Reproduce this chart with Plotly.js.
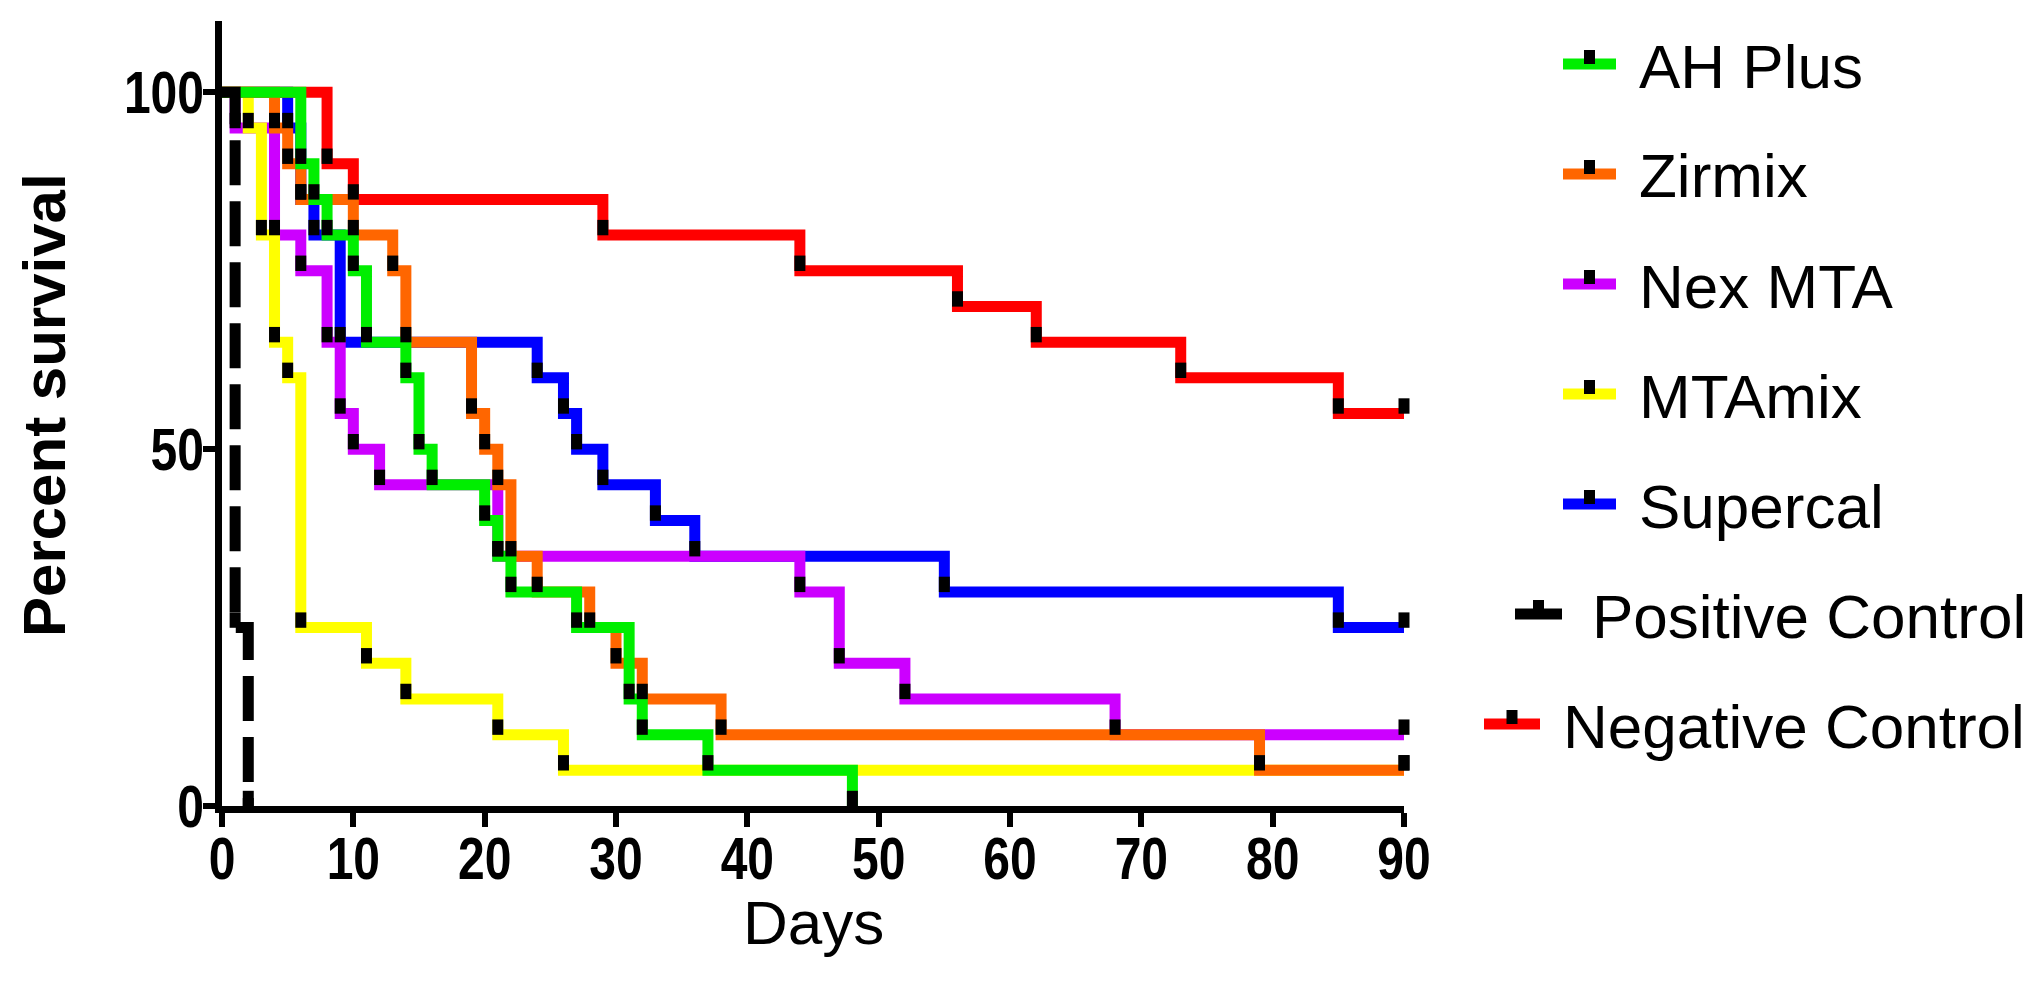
<!DOCTYPE html>
<html>
<head>
<meta charset="utf-8">
<script src="https://cdn.plot.ly/plotly-3.0.1.min.js"></script>
<style>
html,body{margin:0;padding:0;background:#ffffff;}
#chart{width:2040px;height:986px;}
</style>
</head>
<body>
<div id="chart"></div>
<script>
// ---------------- data ----------------
const seriesNames = ['AH Plus', 'Zirmix', 'Nex MTA', 'MTAmix', 'Supercal', 'Positive Control', 'Negative Control'];

const ahPlusDays = [0, 6, 7, 8, 10, 11, 14, 15, 16, 20, 21, 22, 27, 31, 32, 37, 48];
const ahPlusSurv = [100, 90, 85, 80, 75, 65, 60, 50, 45, 40, 35, 30, 25, 15, 10, 5, 0];

const zirmixDays = [0, 4, 5, 6, 10, 13, 14, 19, 20, 21, 22, 24, 28, 30, 32, 38, 79, 90];
const zirmixSurv = [100, 95, 90, 85, 80, 75, 65, 55, 50, 45, 35, 30, 25, 20, 15, 10, 5, 5];

const nexMtaDays = [0, 1, 4, 6, 8, 9, 10, 12, 21, 44, 47, 52, 68, 90];
const nexMtaSurv = [100, 95, 80, 75, 65, 55, 50, 45, 35, 30, 20, 15, 10, 10];

const mtamixDays = [0, 2, 3, 4, 5, 6, 11, 14, 21, 26, 90];
const mtamixSurv = [100, 95, 80, 65, 60, 25, 20, 15, 10, 5, 5];

const supercalDays = [0, 5, 6, 7, 9, 24, 26, 27, 29, 33, 36, 55, 85, 90];
const supercalSurv = [100, 95, 85, 80, 65, 60, 55, 50, 45, 40, 35, 30, 25, 25];

const positiveDays = [0, 1, 2];
const positiveSurv = [100, 25, 0];

const negativeDays = [0, 8, 10, 29, 44, 56, 62, 73, 85, 90];
const negativeSurv = [100, 90, 85, 80, 75, 70, 65, 60, 55, 55];

const xTickVals = [0, 10, 20, 30, 40, 50, 60, 70, 80, 90];
const yTickVals = [0, 50, 100];

const xTitle = 'Days';
const yTitle = 'Percent survival';

// ---------------- styles ----------------
const seriesColors = ['#00EE00', '#FF6600', '#CC00FF', '#FFFF00', '#0000FF', '#000000', '#FF0000'];
const seriesDash = ['solid', 'solid', 'solid', 'solid', 'solid', '45px,16px', 'solid'];
const drawOrder = [4, 2, 3, 6, 1, 0, 5]; // bottom -> top

const allDays = [ahPlusDays, zirmixDays, nexMtaDays, mtamixDays, supercalDays, positiveDays, negativeDays];
const allSurv = [ahPlusSurv, zirmixSurv, nexMtaSurv, mtamixSurv, supercalSurv, positiveSurv, negativeSurv];

// plot-area geometry (pixels)
const W = 2040, H = 986;
const PL = 222, PR = 1404, PT = 21, PB = 806;
const yMax = 110;
const pxPerUnitY = (PB - PT) / yMax;
const symbolLift = 7.5 / pxPerUnitY;   // symbols sit on top of the step

const FONT = 'Liberation Sans, Arial, Helvetica, sans-serif';
const TICK_SIZE = 60;
const TICK_CONDENSE = 0.8;  // reference tick digits are condensed
const LINE_W = 11;

const traces = [];
drawOrder.forEach(i => {
  traces.push({
    type: 'scatter', mode: 'lines',
    x: allDays[i], y: allSurv[i],
    line: {shape: 'hv', color: seriesColors[i], width: LINE_W, dash: seriesDash[i]},
    name: seriesNames[i], showlegend: false, hoverinfo: 'skip', cliponaxis: false
  });
});
drawOrder.forEach(i => {
  traces.push({
    type: 'scatter', mode: 'markers',
    x: allDays[i].slice(1),
    y: allSurv[i].slice(1).map(v => v + symbolLift),
    marker: {symbol: 'line-ns', size: 11, color: '#000', line: {color: '#000', width: 11}},
    showlegend: false, hoverinfo: 'skip', cliponaxis: false
  });
});

// ---------------- custom legend + axis titles (paper coordinates) ----------------
const legendRowY = [64, 174, 284, 394, 504, 614, 724];
const legendLineX0 = [1563, 1563, 1563, 1563, 1563, 1515, 1484];
const legendLineX1 = [1616, 1616, 1616, 1616, 1616, 1562, 1540];
const legendTextX = [1637, 1637, 1637, 1637, 1637, 1590, 1561];

const px2x = px => (px - PL) / (PR - PL);
const py2y = py => (PB - py) / (PB - PT);

const shapes = [];
const annotations = [];
seriesNames.forEach((nm, i) => {
  const yc = legendRowY[i];
  shapes.push({type: 'line', xref: 'paper', yref: 'paper',
    x0: px2x(legendLineX0[i]), x1: px2x(legendLineX1[i]), y0: py2y(yc), y1: py2y(yc),
    line: {color: seriesColors[i], width: LINE_W}});
  const cx = (legendLineX0[i] + legendLineX1[i]) / 2;
  shapes.push({type: 'rect', xref: 'paper', yref: 'paper',
    x0: px2x(cx - 5.5), x1: px2x(cx + 5.5), y0: py2y(yc), y1: py2y(yc - 14),
    fillcolor: '#000', line: {width: 0}});
  annotations.push({xref: 'paper', yref: 'paper', x: px2x(legendTextX[i]), y: py2y(yc + 2),
    xanchor: 'left', yanchor: 'middle', showarrow: false, text: nm,
    font: {family: FONT, size: 62, color: '#000'}});
});
// axis titles
annotations.push({xref: 'paper', yref: 'paper', x: px2x(813), y: py2y(922),
  xanchor: 'center', yanchor: 'middle', showarrow: false, text: xTitle,
  font: {family: FONT, size: 62, color: '#000'}});
annotations.push({xref: 'paper', yref: 'paper', x: px2x(44), y: py2y(405),
  xanchor: 'center', yanchor: 'middle', showarrow: false, text: yTitle, textangle: -90,
  font: {family: FONT, size: 60, color: '#000', weight: 'bold'}});

const layout = {
  width: W, height: H,
  margin: {l: PL, r: W - PR, t: PT, b: H - PB, pad: 0},
  paper_bgcolor: '#ffffff', plot_bgcolor: '#ffffff',
  showlegend: false,
  xaxis: {
    range: [0, 90], tickvals: xTickVals, ticktext: xTickVals.map(String),
    showline: true, linecolor: '#000', linewidth: 7,
    ticks: 'outside', ticklen: 14, tickwidth: 6, tickcolor: '#000',
    showgrid: false, zeroline: false,
    tickfont: {family: FONT, size: TICK_SIZE, color: '#000', weight: 'bold'}
  },
  yaxis: {
    range: [0, yMax], tickvals: yTickVals, ticktext: yTickVals.map(String),
    showline: true, linecolor: '#000', linewidth: 7,
    ticks: 'outside', ticklen: 12, tickwidth: 6, tickcolor: '#000',
    showgrid: false, zeroline: false,
    tickfont: {family: FONT, size: TICK_SIZE, color: '#000', weight: 'bold'}
  },
  shapes: shapes,
  annotations: annotations
};

function condense(t, anchorFrac) {
  const bb = t.getBBox();
  const ax = bb.x + bb.width * anchorFrac;
  const tr = t.getAttribute('transform') || '';
  t.setAttribute('transform', tr + ' translate(' + ax + ',0) scale(' + TICK_CONDENSE + ',1) translate(' + (-ax) + ',0)');
}

Plotly.newPlot('chart', traces, layout, {displayModeBar: false, staticPlot: true}).then(gd => {
  // place tick labels at the reference spacing from the axis lines
  const box = gd.getBoundingClientRect();
  const capTopTarget = 836;             // top of x tick digits
  const yLabelRightTarget = 204;        // right edge of y tick labels
  gd.querySelectorAll('g.xtick text').forEach(t => {
    const r = t.getBoundingClientRect();
    const capTop = r.top - box.top + 0.189 * TICK_SIZE;
    const y0 = parseFloat(t.getAttribute('y')) || 0;
    t.setAttribute('y', y0 + (capTopTarget - capTop));
    condense(t, 0.5);
  });
  gd.querySelectorAll('g.ytick text').forEach(t => {
    const r = t.getBoundingClientRect();
    const x0 = parseFloat(t.getAttribute('x')) || 0;
    t.setAttribute('x', x0 + (yLabelRightTarget - (r.right - box.left)));
    condense(t, 1.0);
  });
});
</script>
</body>
</html>
